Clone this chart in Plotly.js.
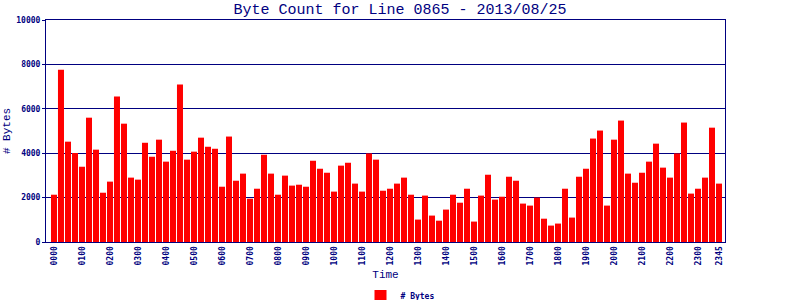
<!DOCTYPE html>
<html>
<head>
<meta charset="utf-8">
<script src="https://cdn.plot.ly/plotly-3.0.1.min.js"></script>
<style>html,body{margin:0;padding:0;background:#fff;}#chart{width:800px;height:300px;}</style>
</head>
<body>
<div id="chart"></div>
<script>
// 15-minute time slots 0000 .. 2345
const times = [];
for (let h = 0; h < 24; h++) { for (const m of ['00','15','30','45']) { times.push(String(h).padStart(2,'0') + m); } }

const bytes = [
  2130, 7760, 4520, 4010, 3390, 5600, 4160, 2220, 2720, 6550, 5330, 2900,
  2810, 4470, 3840, 4610, 3620, 4110, 7090, 3710, 4070, 4700, 4290, 4200,
  2490, 4750, 2760, 3080, 1950, 2400, 3930, 3080, 2130, 2990, 2540, 2580,
  2490, 3660, 3300, 3120, 2270, 3440, 3570, 2630, 2270, 3990, 3710, 2310,
  2400, 2630, 2900, 2130, 1010, 2090, 1190, 960, 1460, 2130, 1770, 2400,
  920, 2090, 3030, 1910, 2040, 2940, 2760, 1730, 1640, 2000, 1050, 740,
  830, 2400, 1100, 2940, 3300, 4660, 5020, 1640, 4610, 5470, 3080, 2670,
  3120, 3620, 4430, 3350, 2900, 3990, 5380, 2180, 2400, 2900, 5150, 2630
];

const tickLabels = ['0000','0100','0200','0300','0400','0500','0600','0700','0800','0900','1000','1100',
  '1200','1300','1400','1500','1600','1700','1800','1900','2000','2100','2200','2300','2345'];
const yTicks = [0, 2000, 4000, 6000, 8000, 10000];
const yTickText = ['0', '2000', '4000', '6000', '8000', '10000'];

const navy = '#000080';
const mono = 'DejaVu Sans Mono, monospace';
const monoThin = 'Liberation Mono, monospace';

Plotly.newPlot('chart', [{
  type: 'bar',
  x: times,
  y: bytes,
  name: '# Bytes',
  marker: { color: '#ff0000' },
  showlegend: true
}], {
  width: 800, height: 300,
  margin: { l: 46, r: 75, t: 20, b: 58 },
  paper_bgcolor: '#ffffff',
  plot_bgcolor: '#ffffff',
  bargap: 0.14,
  title: { text: 'Byte Count for Line 0865 - 2013/08/25', font: { family: monoThin, size: 15, color: navy },
           x: 0.5, xref: 'container', y: 0.97, yref: 'container', yanchor: 'middle' },
  xaxis: {
    type: 'category',
    tickvals: tickLabels, ticktext: tickLabels,
    tickangle: -90,
    tickfont: { family: mono, size: 8, color: navy, weight: 'bold' },
    range: [-1.14, 95.86],
    showline: true, linecolor: navy, linewidth: 1, mirror: true,
    ticks: '', showgrid: false,
    title: { text: 'Time', font: { family: monoThin, size: 11, color: navy }, standoff: 20 }
  },
  yaxis: {
    range: [0, 10000],
    tickvals: yTicks, ticktext: yTickText,
    tickfont: { family: mono, size: 8, color: navy, weight: 'bold' },
    showline: true, linecolor: navy, linewidth: 1, mirror: true,
    ticks: 'outside', ticklen: 3, tickcolor: navy,
    showgrid: true, gridcolor: navy, gridwidth: 1,
    zeroline: false,
    title: { text: '# Bytes', font: { family: monoThin, size: 11, color: navy }, standoff: 3 }
  },
  legend: {
    orientation: 'h', xref: 'container', x: 0.5, xanchor: 'center',
    yref: 'container', y: 0.062, yanchor: 'top',
    font: { family: mono, size: 8, color: navy, weight: 'bold' },
    itemwidth: 30
  }
}, { staticPlot: true, displayModeBar: false });
</script>
</body>
</html>
